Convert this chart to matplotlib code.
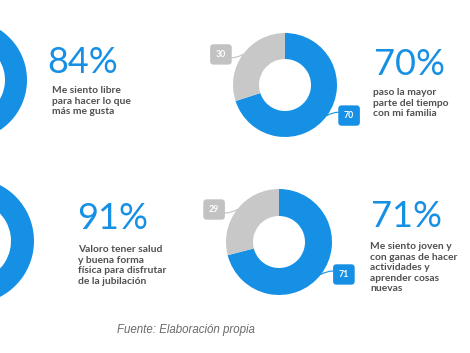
import numpy as np
import matplotlib
matplotlib.use("Agg")
import matplotlib.pyplot as plt

# ---------- Data ----------
percent_values = [84, 70, 91, 71]
captions = [
    "Me siento libre\npara hacer lo que\nmás me gusta",
    "paso la mayor\nparte del tiempo\ncon mi familia",
    "Valoro tener salud\ny buena forma\nfísica para disfrutar\nde la jubilación",
    "Me siento joven y\ncon ganas de hacer\nactividades y\naprender cosas\nnuevas",
]
source_note = "Fuente: Elaboración propia"

# ---------- Layout (pixel coords, y measured from top) ----------
W, H = 470, 353
layout = [
    # donut center, outer R, inner r, percent text xy (baseline), caption xy (top), label dx
    dict(c=(-33, 80), R=60, r=38, pct=(47, 73), cap=(52, 86), dx=27),
    dict(c=(285, 85), R=52, r=26, pct=(374, 75), cap=(373, 88), dx=22),
    dict(c=(-29, 241), R=63, r=40, pct=(77, 229), cap=(78, 245), dx=32),
    dict(c=(279, 242), R=53, r=26, pct=(371, 227), cap=(370, 242), dx=23),
]

BLUE = '#1590E4'
GRAY = '#C8C8C8'
GRAY_BOX = '#C2C2C2'
TEXT = '#505050'

fig = plt.figure(figsize=(W / 100, H / 100), dpi=100)
ax = fig.add_axes([0, 0, 1, 1])


def up(y):
    """Convert a top-down pixel y to the axis' bottom-up y."""
    return H - y


for val, cap, lay in zip(percent_values, captions, layout):
    cx, cy = lay['c']
    R, r = lay['R'], lay['r']
    parts = [val, 100 - val]
    ax.pie(parts, colors=[BLUE, GRAY], startangle=90, counterclock=False,
           radius=R, center=(cx, up(cy)), frame=True,
           wedgeprops=dict(width=R - r, edgecolor='none', linewidth=0))

    # value labels with connector
    start = 0.0
    for p, col in zip(parts, [BLUE, GRAY_BOX]):
        mid = start + p / 2.0
        start += p
        ang = np.deg2rad(90 - mid * 3.6)
        ax_x = cx + R * np.cos(ang)
        ax_y = up(cy) + R * np.sin(ang)
        sign = 1 if np.cos(ang) >= 0 else -1
        tx = ax_x + sign * lay['dx']
        ty = ax_y
        ax.annotate(str(p), xy=(ax_x, ax_y), xytext=(tx, ty),
                    ha='center', va='center', fontsize=6.3, color='white',
                    family='Lato', fontweight='bold',
                    bbox=dict(boxstyle='round,pad=0.65,rounding_size=0.4',
                              fc=col, ec='none'),
                    arrowprops=dict(arrowstyle='-', color=col, lw=0.8,
                                    shrinkA=0, shrinkB=0,
                                    connectionstyle='arc3,rad=0.3'))

    px, py = lay['pct']
    ax.text(px, up(py), f"{val}%", fontsize=26, color=BLUE, family='Lato',
            ha='left', va='baseline')
    qx, qy = lay['cap']
    ax.text(qx, up(qy), cap, fontsize=7.4, color=TEXT, family='Lato',
            fontweight='bold', ha='left', va='top', linespacing=1.22)

ax.text(186, up(330), source_note, fontsize=8.3, color='#6A6A6A',
        family='Liberation Sans', style='italic', ha='center', va='center')

ax.set_xlim(0, W)
ax.set_ylim(0, H)
ax.set_axis_off()

fig.savefig('out.png', dpi=100)
